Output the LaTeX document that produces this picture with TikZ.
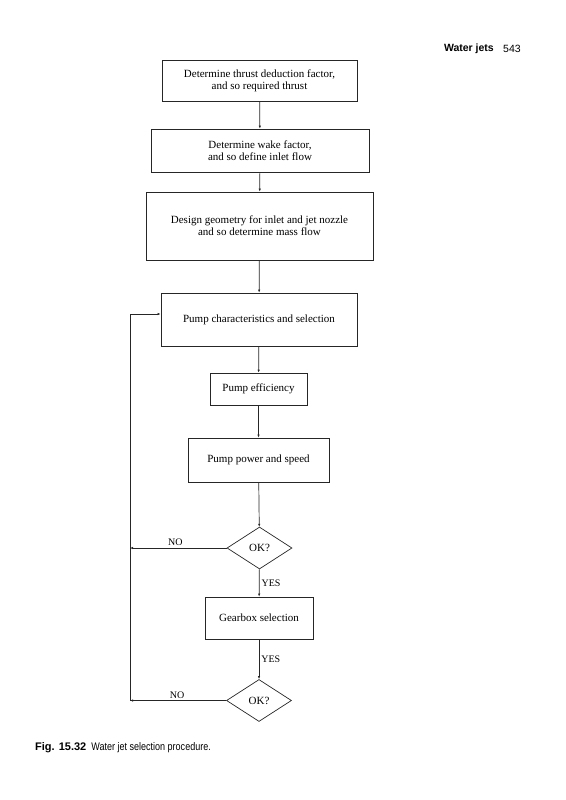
\documentclass[tikz,border=0pt]{standalone}
\usepackage{fontspec}
\setmainfont{Liberation Serif}
\setsansfont{Liberation Sans}
\usetikzlibrary{
    arrows.meta,
    shapes.geometric
}

\begin{document}
\begin{tikzpicture}[
    x=1pt, y=-1pt,
    font=\fontsize{11}{12}\selectfont,
    box/.style={
        rectangle,
        draw=black!85,
        line width=0.7pt,
        align=center,
        inner sep=0pt
    },
    test/.style={
        diamond,
        draw=black!85,
        line width=0.7pt,
        inner sep=0pt,
        minimum width=65pt,
        minimum height=42pt
    },
    arrow/.style={
        -{Latex[length=3pt,width=2.4pt]},
        line width=0.7pt,
        draw=black!85
    },
    line/.style={
        line width=0.7pt,
        draw=black!85
    },
    note/.style={
        font=\fontsize{10}{11}\selectfont,
        inner sep=2pt
    }
]
\useasboundingbox (0,0) rectangle (565,800);

% =========================================================
% Page header and caption
% =========================================================
\node[anchor=east, font=\sffamily\bfseries\fontsize{10.5}{12}\selectfont, inner sep=0pt] (head) at (494,49) {Water jets};
\node[anchor=west, font=\sffamily\fontsize{10.5}{12}\selectfont, inner sep=0pt] (page) at (503,49) {543};

\node[anchor=west, inner sep=0pt, font=\sffamily] (caption) at (35,748)
{{\bfseries\fontsize{11}{13}\selectfont Fig. 15.32}\hspace{5pt}\scalebox{0.82}[1]{\fontsize{11}{12}\selectfont Water jet selection procedure.}};

% =========================================================
% Main chain of steps
% =========================================================
\node[box, minimum width=195pt, minimum height=41pt] (thrust) at (259.5,80.5)
{Determine thrust deduction factor,\\and so required thrust};

\node[box, minimum width=218pt, minimum height=43pt] (wake) at (260,150.5)
{Determine wake factor,\\and so define inlet flow};

\node[box, minimum width=227pt, minimum height=68pt] (geometry) at (259.5,226)
{Design geometry for inlet and jet nozzle\\and so determine mass flow};

\node[box, minimum width=196pt, minimum height=53pt] (pump) at (259,319.5)
{Pump characteristics and selection};

\node[box, minimum width=97pt, minimum height=32pt] (efficiency) at (258.5,389)
{Pump efficiency};

\node[box, minimum width=141pt, minimum height=44pt] (power) at (258.5,460)
{Pump power and speed};

\node[test] (okfirst) at (259.5,548) {OK?};

\node[box, minimum width=108pt, minimum height=42pt] (gearbox) at (259,618)
{Gearbox selection};

\node[test] (oksecond) at (259,700.5) {OK?};

% =========================================================
% Return path
% =========================================================
\coordinate (loopmid) at (130,548);
\coordinate (loopbot) at (130,700.5);
\coordinate (looptop) at (130,314);

% =========================================================
% Arrows
% =========================================================
\draw[arrow] (thrust) -- (wake);
\draw[arrow] (wake) -- (geometry);
\draw[arrow] (geometry) -- (pump);
\draw[arrow] (pump) -- (efficiency);
\draw[arrow] (efficiency) -- (power);
\draw[arrow] (power) -- (okfirst);

\draw[arrow] (okfirst) -- node[right, note] {YES} (gearbox);
\draw[arrow] (gearbox) -- node[right, note] {YES} (oksecond);

\draw[arrow] (okfirst.west) -- node[above, note, xshift=-3pt] {NO} (loopmid);
\draw[arrow] (oksecond.west) -- node[above, note, xshift=-1pt] {NO} (loopbot);
\draw[line] (loopbot) -- (looptop);
\draw[arrow] (looptop) -- (looptop -| pump.west);

\end{tikzpicture}
\end{document}
